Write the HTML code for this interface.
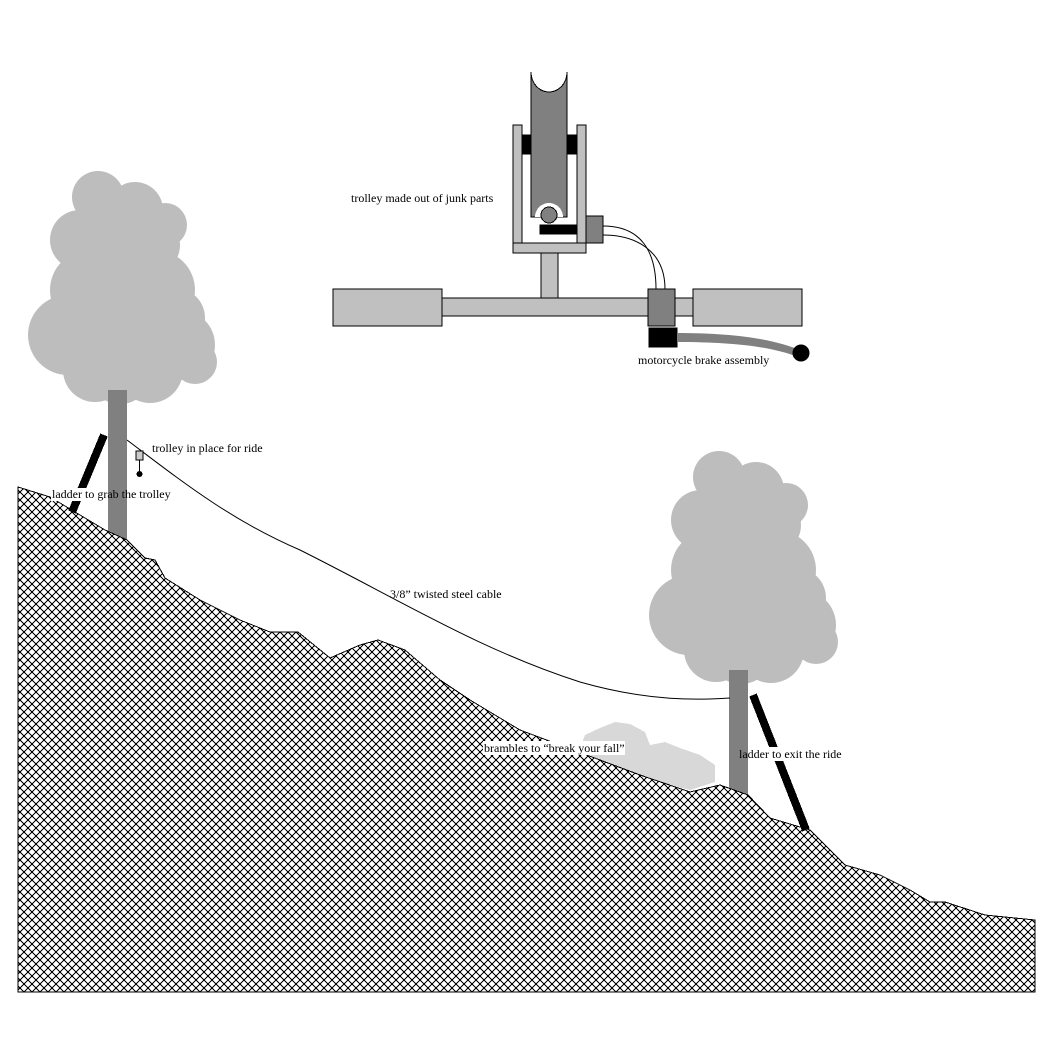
<!DOCTYPE html>
<html><head><meta charset="utf-8"><style>
html,body{margin:0;padding:0;background:#fff;}
svg{display:block}
text{font-family:"Liberation Serif",serif;font-size:12px;fill:#000}
</style></head><body>
<svg width="1053" height="1042" viewBox="0 0 1053 1042" xmlns="http://www.w3.org/2000/svg" shape-rendering="crispEdges">
<defs>
<pattern id="hatch" width="8" height="8" patternUnits="userSpaceOnUse"><rect width="8" height="8" fill="#fff"/><path d="M0 0L8 8M8 0L0 8" stroke="#000" stroke-width="1"/></pattern>
<g id="tree">
<circle cx="98" cy="197" r="26"/><circle cx="135" cy="210" r="28"/><circle cx="165" cy="225" r="22"/>
<circle cx="80" cy="240" r="30"/><circle cx="150" cy="245" r="30"/><circle cx="118" cy="235" r="30"/>
<circle cx="90" cy="290" r="40"/><circle cx="155" cy="290" r="40"/><circle cx="122" cy="285" r="40"/>
<circle cx="68" cy="335" r="40"/><circle cx="120" cy="330" r="50"/><circle cx="180" cy="345" r="35"/>
<circle cx="150" cy="370" r="33"/><circle cx="95" cy="370" r="32"/><circle cx="195" cy="362" r="22"/>
<circle cx="120" cy="372" r="32"/><circle cx="175" cy="318" r="30"/>
</g>
</defs>
<g fill="#bdbdbd" shape-rendering="auto"><use href="#tree"/><use href="#tree" transform="translate(621,280)"/></g>
<rect x="108" y="390" width="19" height="150" fill="#808080"/>
<rect x="729" y="670" width="19" height="125" fill="#808080"/>
<path d="M585 735 L600 728 L615 722 L630 724 L645 732 L650 745 L665 742 L680 748 L700 755 L715 765 L715 782 L690 790 L640 778 L600 762 L580 748Z" fill="#d8d8d8"/>
<polygon points="18,487 50,497 80,515 105,530 127,540 145,558 155,560 165,578 200,600 240,620 270,632 298,632 330,658 360,645 378,640 405,650 440,680 470,700 520,730 560,745 600,760 640,775 690,792 720,785 748,795 770,818 810,830 845,865 880,875 910,890 930,902 945,902 985,915 1035,920 1035,992 18,992" fill="url(#hatch)" stroke="#000" stroke-width="1"/>
<line x1="104" y1="435" x2="72" y2="512" stroke="#000" stroke-width="8"/>
<line x1="753" y1="695" x2="806" y2="830" stroke="#000" stroke-width="8"/>
<path d="M127 440 C180 480 230 520 300 550 C400 600 480 650 580 682 C650 702 700 700 730 698" fill="none" stroke="#000" stroke-width="1" shape-rendering="auto"/>
<rect x="136" y="451" width="7" height="9" fill="#ccc" stroke="#000"/>
<line x1="139.5" y1="460" x2="139.5" y2="472" stroke="#000"/>
<circle cx="139.5" cy="474" r="3"/>
<g stroke="#000" stroke-width="1">
<path d="M531 72 L531 217 L567 217 L567 72 A18 20 0 0 1 531 72Z" fill="#808080"/>
<path d="M535 217 A14 14 0 0 1 563 217Z" fill="#fff" stroke="none"/>
<rect x="513" y="125" width="9" height="128" fill="#c0c0c0"/>
<rect x="577" y="125" width="9" height="128" fill="#c0c0c0"/>
<rect x="513" y="243" width="73" height="10" fill="#c0c0c0"/>
<rect x="522" y="135" width="9" height="19" fill="#000"/>
<rect x="567" y="135" width="10" height="19" fill="#000"/>
<circle cx="549" cy="215" r="8" fill="#808080"/>
<rect x="540" y="225" width="37" height="9" fill="#000"/>
<rect x="586" y="216" width="17" height="27" fill="#808080"/>
<path d="M603 226 C640 226 656 250 656 289" fill="none" shape-rendering="auto"/>
<path d="M603 235 C635 235 665 250 665 289" fill="none" shape-rendering="auto"/>
<rect x="541" y="253" width="17" height="45" fill="#c0c0c0"/>
<rect x="442" y="298" width="251" height="18" fill="#c0c0c0"/>
<rect x="333" y="289" width="109" height="37" fill="#c0c0c0"/>
<rect x="693" y="289" width="109" height="37" fill="#c0c0c0"/>
<rect x="648" y="289" width="27" height="37" fill="#808080"/>
<rect x="649" y="328" width="28" height="19" fill="#000"/>
<path d="M677 333 C730 333 770 338 800 350 L798 357 C770 346 730 342 677 342Z" fill="#808080" stroke="none" shape-rendering="auto"/>
<circle cx="801" cy="353" r="8" fill="#000" shape-rendering="auto"/>
</g>
<g fill="#fff">
<rect x="51" y="488" width="57" height="13"/><rect x="127" y="488" width="44" height="13"/>
<rect x="483" y="741" width="142" height="14"/>
<rect x="748" y="747" width="94" height="14"/>
</g>
<text x="351" y="202">trolley made out of junk parts</text>
<text x="638" y="364">motorcycle  brake  assembly</text>
<text x="152" y="452">trolley in place for ride</text>
<text x="52" y="498">ladder to grab the trolley</text>
<text x="390" y="598">3/8”  twisted steel cable</text>
<text x="484" y="752">brambles to  “break your fall”</text>
<text x="739" y="758">ladder to exit the ride</text>
</svg>
</body></html>
